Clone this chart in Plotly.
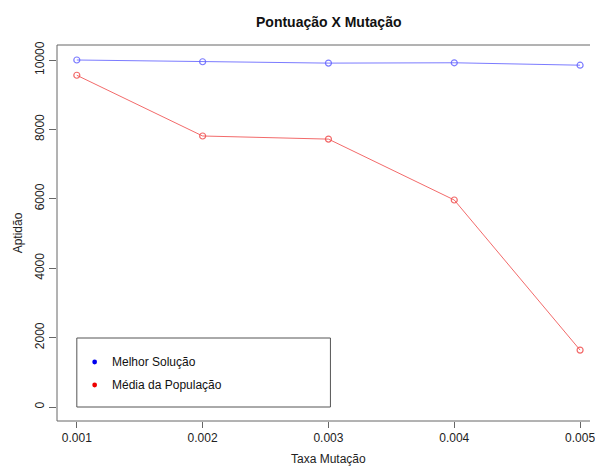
import plotly.graph_objects as go

taxa = [0.001, 0.002, 0.003, 0.004, 0.005]
melhor = [10000, 9950, 9910, 9920, 9850]
media = [9560, 7810, 7720, 5965, 1640]
x_ticks = [0.001, 0.002, 0.003, 0.004, 0.005]
x_tick_text = ["0.001", "0.002", "0.003", "0.004", "0.005"]
y_ticks = [0, 2000, 4000, 6000, 8000, 10000]
y_tick_text = ["0", "2000", "4000", "6000", "8000", "10000"]
legend_names = ["Melhor Solução", "Média da População"]
legend_colors = ["#0000ee", "#ee0000"]

FONT = "Liberation Sans, Arial, sans-serif"
W, H = 595, 466
L, R, T, B = 57, 0, 45, 45
PW, PH = W - L - R, H - T - B

def px(xp):
    return (xp - L) / PW

def py(yp):
    return (H - B - yp) / PH

fig = go.Figure()
fig.add_trace(go.Scatter(
    x=taxa, y=melhor, mode="lines+markers", name=legend_names[0], showlegend=False,
    line=dict(color="rgba(100,100,255,0.85)", width=1),
    marker=dict(symbol="circle-open", size=6, color="rgba(100,100,255,0.85)", line=dict(width=1.2)),
))
fig.add_trace(go.Scatter(
    x=taxa, y=media, mode="lines+markers", name=legend_names[1], showlegend=False,
    line=dict(color="rgba(240,80,80,0.85)", width=1),
    marker=dict(symbol="circle-open", size=6, color="rgba(240,80,80,0.85)", line=dict(width=1.2)),
))

box = dict(color="#666666", width=1)
shapes = [
    dict(type="line", xref="paper", yref="paper", x0=0, x1=1, y0=1, y1=1, line=box),
    dict(type="line", xref="paper", yref="paper", x0=0, x1=1, y0=0, y1=0, line=box),
    dict(type="line", xref="paper", yref="paper", x0=0, x1=0, y0=0, y1=1, line=box),
    dict(type="rect", xref="paper", yref="paper", x0=px(77), x1=px(333), y0=py(407), y1=py(338),
         line=dict(color="#555555", width=1), fillcolor="rgba(0,0,0,0)"),
]
annotations = []
for i, (name, col) in enumerate(zip(legend_names, legend_colors)):
    cy = 362 + i * 23
    shapes.append(dict(type="circle", xref="paper", yref="paper",
                       x0=px(95 - 2.4), x1=px(95 + 2.4), y0=py(cy + 2.4), y1=py(cy - 2.4),
                       fillcolor=col, line=dict(color=col, width=0)))
    annotations.append(dict(text=name, xref="paper", yref="paper", x=px(111), y=py(cy),
                            xanchor="left", yanchor="middle", showarrow=False,
                            font=dict(family=FONT, size=12, color="#111111")))

annotations.append(dict(text="<b>Pontuação X Mutação</b>", xref="paper", yref="paper",
                        x=px(331), y=py(22), xanchor="center", yanchor="middle", showarrow=False,
                        font=dict(family=FONT, size=14, color="#111111")))
annotations.append(dict(text="Taxa Mutação", xref="paper", yref="paper",
                        x=px(331), y=py(459), xanchor="center", yanchor="middle", showarrow=False,
                        font=dict(family=FONT, size=12, color="#222222")))
annotations.append(dict(text="Aptidão", xref="paper", yref="paper",
                        x=px(18), y=py(233), xanchor="center", yanchor="middle", showarrow=False,
                        textangle=-90, font=dict(family=FONT, size=12, color="#222222")))

x0 = 0.001 - 20 / 127 * 0.001
x1 = x0 + PW / 127 * 0.001
y0 = -(421 - 407) / 0.0347
y1 = (407 - 45) / 0.0347

fig.update_layout(
    width=W, height=H, margin=dict(l=L, r=R, t=T, b=B),
    paper_bgcolor="white", plot_bgcolor="white",
    showlegend=False,
    shapes=shapes, annotations=annotations,
    font=dict(family=FONT, size=12, color="#222222"),
    xaxis=dict(range=[x0, x1], tickvals=x_ticks, ticktext=x_tick_text, showgrid=False, zeroline=False,
               showline=False, ticks="outside", ticklen=6, tickcolor="#666666", tickwidth=1,
               ticklabeloverflow="allow", tickfont=dict(family=FONT, size=12, color="#222222")),
    yaxis=dict(range=[y0, y1], tickvals=y_ticks, ticktext=y_tick_text, showgrid=False, zeroline=False,
               showline=False, ticks="outside", ticklen=7, tickcolor="#666666", tickwidth=1,
               tickangle=-90, tickfont=dict(family=FONT, size=12, color="#222222")),
)

fig.write_html("out.html")
